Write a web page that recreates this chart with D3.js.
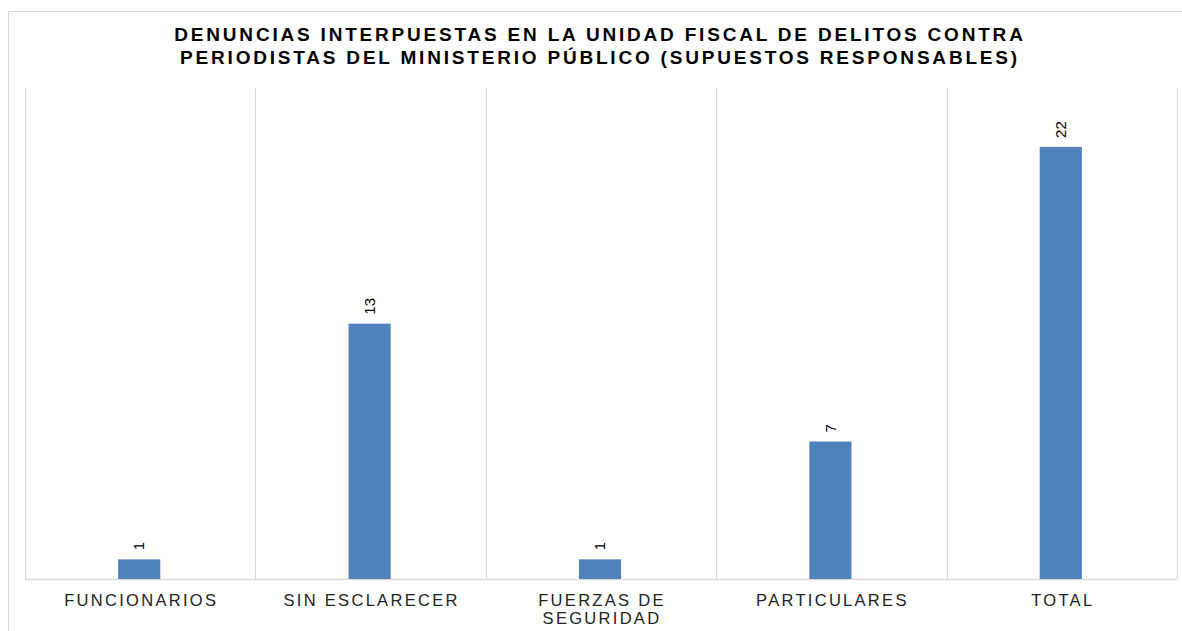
<!DOCTYPE html>
<html><head><meta charset="utf-8">
<script src="https://cdn.jsdelivr.net/npm/d3@7"></script>
<style>body{margin:0;background:#fff;} svg{display:block;font-family:"Liberation Sans",Arial,sans-serif;}</style>
</head><body>
<svg id="c" width="1182" height="631"></svg>
<script>
const categories = [["FUNCIONARIOS"], ["SIN ESCLARECER"], ["FUERZAS DE", "SEGURIDAD"], ["PARTICULARES"], ["TOTAL"]];
const values = [1, 13, 1, 7, 22];
const titleLines = ["DENUNCIAS INTERPUESTAS EN LA UNIDAD FISCAL DE DELITOS CONTRA", "PERIODISTAS DEL MINISTERIO PÚBLICO (SUPUESTOS RESPONSABLES)"];
const yDomain = [0, 25];

const svg = d3.select("#c");
const W = 1182, H = 631;
const m = {left: 25, right: 5, top: 88, bottom: 52};
const keys = categories.map((c, i) => i);

// outer border
svg.append("path").attr("d", `M8.5,${H+2} V11.5 H${W+2}`).attr("fill", "none").attr("stroke", "#d9d9d9").attr("stroke-width", 1);

const x = d3.scaleBand().domain(keys).range([m.left, W - m.right]).paddingInner(0).paddingOuter(0);
const y = d3.scaleLinear().domain(yDomain).range([H - m.bottom, m.top]);

// vertical gridlines at band boundaries
const bounds = keys.map(k => x(k)).concat([x(keys[keys.length-1]) + x.bandwidth()]);
svg.append("g").selectAll("line").data(bounds).join("line")
  .attr("x1", d => Math.round(d) + 0.5).attr("x2", d => Math.round(d) + 0.5)
  .attr("y1", y(yDomain[1])).attr("y2", y(0))
  .attr("stroke", "#d9d9d9").attr("stroke-width", 1);

// baseline
svg.append("line").attr("x1", m.left).attr("x2", W - m.right)
  .attr("y1", Math.round(y(0)) + 0.5).attr("y2", Math.round(y(0)) + 0.5)
  .attr("stroke", "#d9d9d9").attr("stroke-width", 1.5);

const bw = x.bandwidth() * 0.183;
svg.append("g").selectAll("rect").data(values).join("rect")
  .attr("x", (d, i) => x(i) + x.bandwidth()/2 - bw/2 - 1)
  .attr("width", bw)
  .attr("y", d => y(d))
  .attr("height", d => y(0) - y(d))
  .attr("fill", "#4f81bd");

// value labels rotated
svg.append("g").selectAll("text").data(values).join("text")
  .attr("transform", (d, i) => `translate(${x(i) + x.bandwidth()/2 - 1},${y(d) - 9}) rotate(-90)`)
  .attr("dy", "0.35em")
  .attr("text-anchor", "start")
  .attr("font-size", 15)
  .attr("fill", "#000")
  .text(d => d);

// x axis labels
const xl = svg.append("g").selectAll("text").data(categories).join("text")
  .attr("text-anchor", "middle")
  .attr("font-size", 16.5)
  .attr("letter-spacing", "2.3px")
  .attr("fill", "#222");
xl.each(function(lines, i) {
  const t = d3.select(this);
  lines.forEach((ln, j) => {
    t.append("tspan").attr("x", x(i) + x.bandwidth()/2 + 1).attr("y", 606 + j * 18).text(ln);
  });
});

// title
svg.append("g").selectAll("text").data(titleLines).join("text")
  .attr("x", 600).attr("y", (d, i) => 41 + i * 23)
  .attr("text-anchor", "middle")
  .attr("font-size", 19).attr("font-weight", "bold")
  .attr("letter-spacing", "2.8px")
  .attr("fill", "#000")
  .text(d => d);
</script>
</body></html>
